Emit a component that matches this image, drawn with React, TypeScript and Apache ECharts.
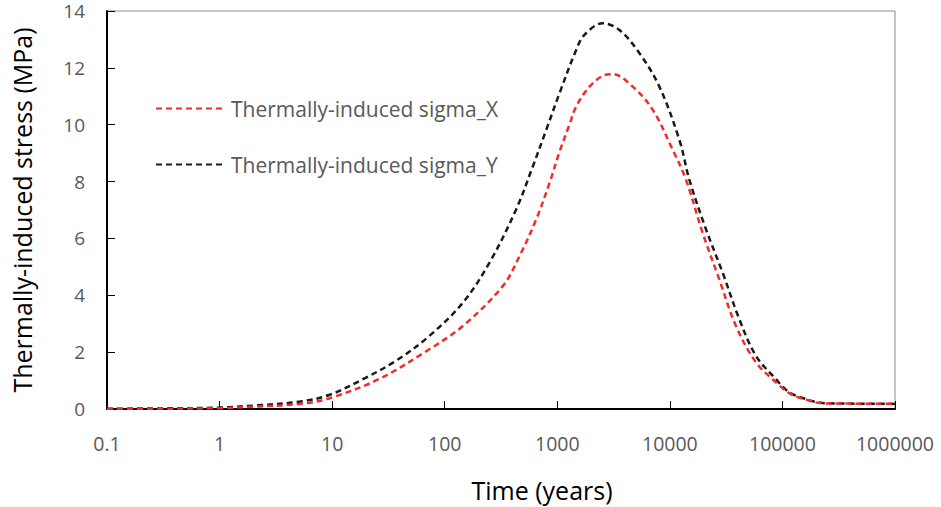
import React, { useEffect, useRef } from "react";
import * as echarts from "echarts";

const xTickLabels = ["0.1", "1", "10", "100", "1000", "10000", "100000", "1000000"];

const timeX = [0.1, 0.3, 1, 2, 5.2, 9.5, 26, 73, 145, 329, 462, 650, 853, 1047, 1282, 1472, 1933, 2535, 3105, 4677, 7035, 10590, 13900, 19540, 27480, 38650, 58200, 87500, 118000, 161700, 227000, 400000, 1000000];
const sigmaX = [0.005, 0.01, 0.03, 0.08, 0.18, 0.38, 1.05, 2.1, 2.92, 4.33, 5.38, 6.67, 7.95, 9.05, 10.0, 10.64, 11.34, 11.72, 11.78, 11.34, 10.53, 9.12, 8.07, 6.2, 4.56, 2.92, 1.64, 0.94, 0.53, 0.33, 0.2, 0.19, 0.18];

const timeY = [0.1, 0.3, 1, 2, 5.2, 9.5, 18.8, 37, 73, 145, 250, 431, 607, 798, 1047, 1472, 1742, 2535, 3565, 5358, 8067, 12140, 14900, 20950, 29420, 41400, 58200, 87500, 114800, 161700, 227000, 400000, 1000000];
const sigmaY = [0.01, 0.02, 0.05, 0.12, 0.26, 0.5, 1.05, 1.7, 2.57, 3.74, 5.15, 7.02, 8.54, 9.82, 11.11, 12.63, 13.16, 13.57, 13.33, 12.52, 11.34, 9.47, 8.07, 6.32, 4.8, 3.16, 1.87, 1.05, 0.59, 0.35, 0.21, 0.19, 0.18];

const seriesNames = ["Thermally-induced sigma_X", "Thermally-induced sigma_Y"];
const xTitle = "Time (years)";
const yTitle = "Thermally-induced stress (MPa)";

const FONT = "'Open Sans', sans-serif";

export default function App() {
  const ref = useRef<HTMLDivElement>(null);
  useEffect(() => {
    if (!ref.current) return;
    const chart = echarts.init(ref.current, undefined, { renderer: "svg" });
    const pairs = (t: number[], v: number[]) => t.map((x, i) => [x, v[i]]);
    chart.setOption({
      animation: false,
      backgroundColor: "#ffffff",
      grid: {
        left: 107,
        right: 46,
        top: 11,
        bottom: 97,
        show: true,
        borderColor: "#8c8c8c",
        borderWidth: 1,
      },
      legend: {
        orient: "vertical",
        left: 155,
        top: 98,
        padding: 0,
        itemWidth: 70,
        itemHeight: 16,
        itemGap: 35,
        itemTextGap: 7,
        itemStyle: { color: "transparent", borderColor: "transparent", borderWidth: 0, opacity: 0 },
        textStyle: { fontFamily: FONT, fontSize: 21, lineHeight: 16, color: "#595959" },
        data: seriesNames,
      },
      xAxis: {
        type: "log",
        logBase: 10,
        min: 0.1,
        max: 1000000,
        name: xTitle,
        nameLocation: "middle",
        nameGap: 68,
        nameTextStyle: { fontFamily: FONT, fontSize: 25, color: "#000", padding: [0, 0, 0, 82] },
        axisLine: { show: true, lineStyle: { color: "#000", width: 2 } },
        axisTick: { show: true, inside: true, length: 8, lineStyle: { color: "#000", width: 1 } },
        minorTick: { show: false },
        splitLine: { show: false },
        axisLabel: {
          margin: 24,
          fontFamily: FONT,
          fontSize: 19.5,
          color: "#595959",
          formatter: (v: number) => {
            const k = Math.round(Math.log10(v)) + 1;
            return xTickLabels[k] ?? String(+v.toPrecision(6));
          },
        },
      },
      yAxis: {
        type: "value",
        min: 0,
        max: 14,
        interval: 2,
        name: yTitle,
        nameLocation: "middle",
        nameGap: 73,
        nameTextStyle: { fontFamily: FONT, fontSize: 25, color: "#000" },
        axisLine: { show: true, lineStyle: { color: "#000", width: 2 } },
        axisTick: { show: true, inside: true, length: 8, lineStyle: { color: "#000", width: 1 } },
        splitLine: { show: false },
        axisLabel: { margin: 22, fontFamily: FONT, fontSize: 19, lineHeight: 17, padding: [3, 0, 0, 0], color: "#595959" },
      },
      series: [
        {
          name: seriesNames[0],
          type: "line",
          data: pairs(timeX, sigmaX),
          symbol: "none",
          smooth: 0.35,
          color: "#f22b2b",
          lineStyle: { color: "#f22b2b", width: 2.5, type: [6, 4] },
          z: 3,
        },
        {
          name: seriesNames[1],
          type: "line",
          data: pairs(timeY, sigmaY),
          symbol: "none",
          smooth: 0.35,
          color: "#1a1a1a",
          lineStyle: { color: "#1a1a1a", width: 2.5, type: [6, 4] },
          z: 2,
        },
      ],
    });
    return () => chart.dispose();
  }, []);
  return (
    <div
      ref={ref}
      style={{ position: "fixed", left: 0, top: 0, width: 941, height: 507 }}
    />
  );
}
